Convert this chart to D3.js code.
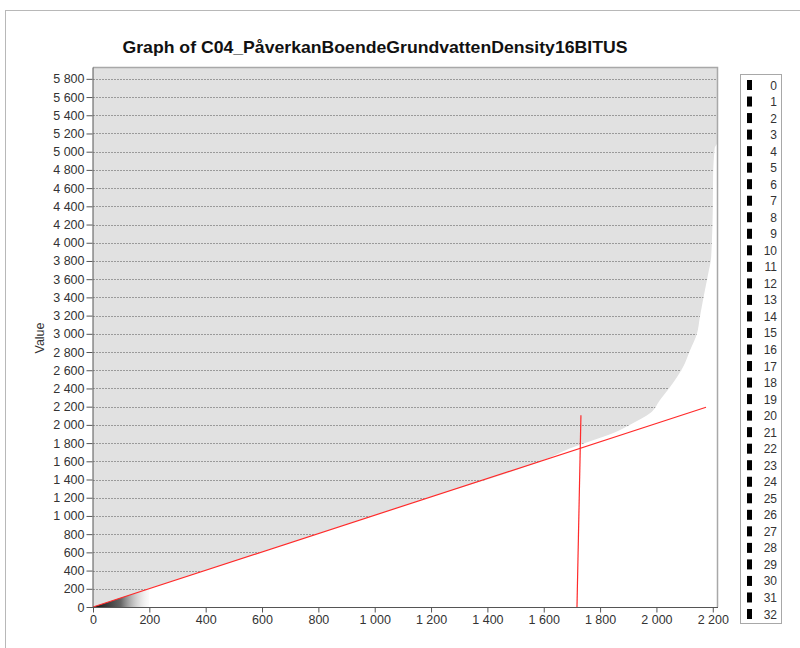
<!DOCTYPE html>
<html>
<head>
<meta charset="utf-8">
<script src="https://cdn.jsdelivr.net/npm/d3@7"></script>
<style>
  body { margin: 0; background: #fff; }
  svg { display: block; font-family: Arial, "Liberation Sans", sans-serif; }
  .tick text { fill: #333; font-size: 12.5px; }
  .tick line { stroke: #555; }
  .domain { stroke: #555; }
</style>
</head>
<body>
<div id="chart"></div>
<script>
// chart size
const width = 800;
const height = 648;
const plot = {left: 92, right: 717, top: 67, bottom: 607};

const title = "Graph of C04_PåverkanBoendeGrundvattenDensity16BITUS";

// axis ticks
const xTicks = [0, 200, 400, 600, 800, 1000, 1200, 1400, 1600, 1800, 2000, 2200];
const yTicks = [0, 200, 400, 600, 800, 1000, 1200, 1400, 1600, 1800, 2000, 2200, 2400, 2600, 2800,
    3000, 3200, 3400, 3600, 3800, 4000, 4200, 4400, 4600, 4800, 5000, 5200, 5400, 5600, 5800];
const xMax = 2215;
const yMax = 5930;

// sorted values curve (rank, value)
const curveRank  = [0, 400, 800, 1200, 1600, 1704, 1775, 1845, 1916, 1977, 2012, 2058, 2094, 2119, 2144, 2154, 2165, 2179, 2186, 2193, 2197, 2200, 2201, 2207, 2215, 2215];
const curveValue = [0, 403, 806, 1210, 1613, 1754, 1831, 1908, 2018, 2127, 2270, 2456, 2632, 2818, 3004, 3180, 3366, 3586, 3695, 3805, 4024, 4353, 4715, 5044, 5090, 5930];

// red reference lines
const trendRank  = [0, 2176];
const trendValue = [0, 2193];
const cutRank  = [1718, 1732];
const cutValue = [0, 2105];

// dark wedge at the origin
const wedgeRank  = [0, 200, 200];
const wedgeValue = [0, 0, 202];

// legend classes
const legendLabels = d3.range(0, 33).map(String);

const svg = d3.select("#chart").append("svg").attr("width", width).attr("height", height);

// outer frame (only top and left visible)
svg.append("rect").attr("x", 5.5).attr("y", 10.5).attr("width", 900).attr("height", 900)
    .attr("fill", "none").attr("stroke", "#b8b8b8");

const x = d3.scaleLinear().domain([0, xMax]).range([plot.left + 1, plot.right]);
const y = d3.scaleLinear().domain([0, yMax]).range([plot.bottom, plot.top]);

const fmt = d => d3.format(",")(d).replace(/,/g, " ");

// plot background
svg.append("rect")
    .attr("x", x(0)).attr("y", y(yMax))
    .attr("width", x(xMax) - x(0)).attr("height", y(0) - y(yMax))
    .attr("fill", "#e1e1e1");

// grid lines
svg.append("g").selectAll("line").data(yTicks.filter(d => d > 0)).join("line")
    .attr("x1", x(0)).attr("x2", x(xMax))
    .attr("y1", d => Math.round(y(d)) + 0.5).attr("y2", d => Math.round(y(d)) + 0.5)
    .attr("stroke", "#9a9a9a").attr("stroke-dasharray", "2,1");

// white area under the curve
const curve = curveRank.map((r, i) => ({r: r, v: curveValue[i]}));
const underArea = d3.area()
    .y(d => y(d.v))
    .x0(d => x(d.r))
    .x1(x(xMax))
    .curve(d3.curveMonotoneY);
svg.append("path").datum(curve).attr("d", underArea).attr("fill", "#fff");

// wedge gradient
const defs = svg.append("defs");
const grad = defs.append("linearGradient").attr("id", "wedge")
    .attr("gradientUnits", "userSpaceOnUse")
    .attr("x1", x(0)).attr("x2", x(220)).attr("y1", 0).attr("y2", 0);
grad.append("stop").attr("offset", "0").attr("stop-color", "#111");
grad.append("stop").attr("offset", "0.45").attr("stop-color", "#666");
grad.append("stop").attr("offset", "1").attr("stop-color", "#fff").attr("stop-opacity", 0);
svg.append("path")
    .datum(wedgeRank.map((r, i) => [r, wedgeValue[i]]))
    .attr("d", d3.line().x(d => x(d[0])).y(d => y(d[1])))
    .attr("fill", "url(#wedge)");

// top and right frame
svg.append("path")
    .attr("d", `M${x(0)},${y(yMax) + 0.5}H${x(xMax) + 0.5}V${y(0)}`)
    .attr("fill", "none").attr("stroke", "#a8a8a8").attr("stroke-width", 1.5);

// red lines
const redLine = d3.line().x(d => x(d[0])).y(d => y(d[1]));
svg.append("path").datum(trendRank.map((r, i) => [r, trendValue[i]]))
    .attr("d", redLine).attr("stroke", "#ff2a2a").attr("stroke-width", 1.2).attr("fill", "none");
svg.append("path").datum(cutRank.map((r, i) => [r, cutValue[i]]))
    .attr("d", redLine).attr("stroke", "#ff2a2a").attr("stroke-width", 1.2).attr("fill", "none");

// axes
const yAxis = d3.axisLeft(y).tickValues(yTicks).tickFormat(fmt).tickSize(6).tickPadding(2).tickSizeOuter(0);
const xAxis = d3.axisBottom(x).tickValues(xTicks).tickFormat(fmt).tickSize(5).tickPadding(3).tickSizeOuter(0);
svg.append("g").attr("transform", `translate(${plot.left + 0.5},0)`).call(yAxis);
svg.append("g").attr("transform", `translate(0,${plot.bottom + 0.5})`).call(xAxis)
    .call(g => g.select(".domain").attr("d", `M${plot.left},0H${x(xMax) + 1}`));

// title
svg.append("text")
    .attr("x", 375).attr("y", 53)
    .attr("text-anchor", "middle")
    .attr("font-size", "17px").attr("font-weight", "bold").attr("fill", "#111")
    .attr("textLength", 505).attr("lengthAdjust", "spacingAndGlyphs")
    .text(title);

// y label
svg.append("text")
    .attr("transform", "translate(44,338) rotate(-90)")
    .attr("text-anchor", "middle")
    .attr("font-size", "12.5px").attr("fill", "#333")
    .text("Value");

// legend
const ly = d3.scalePoint().domain(legendLabels).range([85, 614]);
svg.append("rect").attr("x", 740.5).attr("y", 74.5).attr("width", 41).attr("height", 549)
    .attr("fill", "#fff").attr("stroke", "#a8a8a8");
const item = svg.append("g").selectAll("g").data(legendLabels).join("g")
    .attr("transform", d => `translate(0,${ly(d)})`);
item.append("rect").attr("x", 747).attr("y", -5).attr("width", 5).attr("height", 10).attr("fill", "#000");
item.append("text").attr("x", 777).attr("y", 4.5).attr("text-anchor", "end")
    .attr("font-size", "12px").attr("fill", "#333").text(d => d);
</script>
</body>
</html>
